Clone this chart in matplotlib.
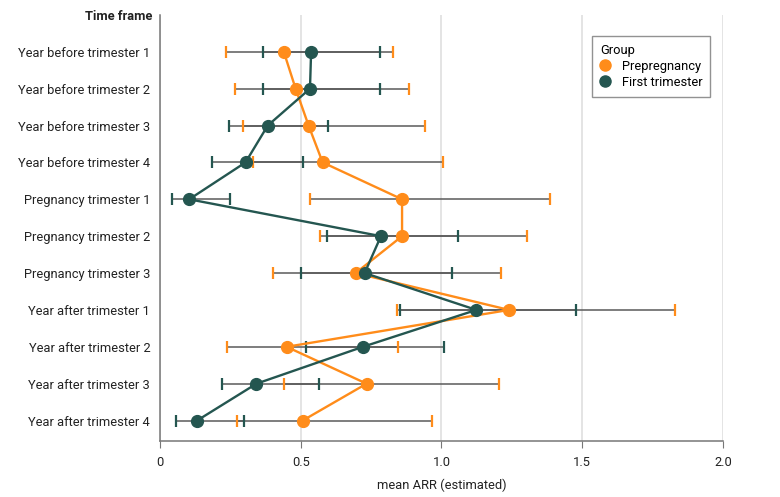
import matplotlib
import matplotlib.pyplot as plt

matplotlib.use('Agg')

time_frames = ["Year before trimester 1", "Year before trimester 2", "Year before trimester 3",
               "Year before trimester 4", "Pregnancy trimester 1", "Pregnancy trimester 2",
               "Pregnancy trimester 3", "Year after trimester 1", "Year after trimester 2",
               "Year after trimester 3", "Year after trimester 4"]

# Prepregnancy group
pre_mean = [0.440, 0.482, 0.528, 0.578, 0.860, 0.860, 0.695, 1.240, 0.450, 0.734, 0.507]
pre_low = [0.234, 0.265, 0.296, 0.332, 0.534, 0.567, 0.400, 0.842, 0.240, 0.439, 0.273]
pre_high = [0.827, 0.884, 0.940, 1.006, 1.385, 1.303, 1.213, 1.829, 0.847, 1.206, 0.968]

# First trimester group
first_mean = [0.537, 0.533, 0.383, 0.304, 0.104, 0.785, 0.727, 1.124, 0.721, 0.343, 0.132]
first_low = [0.367, 0.365, 0.244, 0.186, 0.042, 0.593, 0.500, 0.854, 0.518, 0.219, 0.058]
first_high = [0.783, 0.781, 0.596, 0.507, 0.249, 1.058, 1.037, 1.476, 1.010, 0.564, 0.297]

orange = '#ff8c1a'
teal = '#245650'
bar_col = '#5a5a5a'

plt.rcParams['font.family'] = ['Roboto', 'DejaVu Sans']
fs = 9.3

fig = plt.figure(figsize=(7.8, 4.97), dpi=100)
ax = fig.add_axes([0.205, 0.113, 0.722, 0.857])

ypos = list(range(len(time_frames)))

groups = [("Prepregnancy", pre_mean, pre_low, pre_high, orange),
          ("First trimester", first_mean, first_low, first_high, teal)]

for name, m, lo, hi, col in groups:
    xerr = [[a - b for a, b in zip(m, lo)], [b - a for a, b in zip(m, hi)]]
    ax.errorbar(m, ypos, xerr=xerr, fmt='none', ecolor=bar_col, elinewidth=1.1,
                capsize=0, zorder=2)
    ax.plot(lo, ypos, linestyle='none', marker='|', markersize=8, markeredgewidth=1.6,
            color=col, zorder=3)
    ax.plot(hi, ypos, linestyle='none', marker='|', markersize=8, markeredgewidth=1.6,
            color=col, zorder=3)

for name, m, lo, hi, col in groups:
    ax.plot(m, ypos, color=col, linewidth=1.7, marker='o', markersize=8.5,
            label=name, zorder=4)

ax.set_xlim(0, 2.0)
ax.set_ylim(10.55, -1.0)
ax.set_yticks(ypos)
ax.set_yticklabels(time_frames, fontsize=fs, color='#222222')
ax.tick_params(axis='y', length=0, pad=7)
ax.set_xticks([0, 0.5, 1.0, 1.5, 2.0])
ax.set_xticklabels(['0', '0.5', '1.0', '1.5', '2.0'], fontsize=fs, color='#222222')
ax.tick_params(axis='x', length=5, color='#777777', pad=6)
ax.xaxis.grid(True, color='#dcdcdc', linewidth=1.1)
ax.set_axisbelow(True)
for s in ['top', 'right']:
    ax.spines[s].set_visible(False)
for s in ['left', 'bottom']:
    ax.spines[s].set_color('#777777')
    ax.spines[s].set_linewidth(1.1)

ax.set_xlabel('mean ARR (estimated)', fontsize=fs, color='#222222', labelpad=7)
fig.text(152 / 780, 1 - 17 / 497, 'Time frame', ha='right', va='center',
         fontsize=fs, fontweight='bold', color='#222222')

leg = ax.legend(title='Group', loc='upper right', bbox_to_anchor=(0.977, 0.951),
                borderaxespad=0, fontsize=fs, title_fontsize=fs, frameon=True,
                fancybox=False, handlelength=0.8, handletextpad=0.9, borderpad=0.6,
                labelspacing=0.25)
leg._legend_box.align = 'left'
leg.get_frame().set_edgecolor('#777777')
leg.get_frame().set_linewidth(1.0)
for h in leg.legend_handles:
    h.set_linestyle('none')
    h.set_markersize(8)

fig.savefig('out.png', dpi=100)
plt.close(fig)
